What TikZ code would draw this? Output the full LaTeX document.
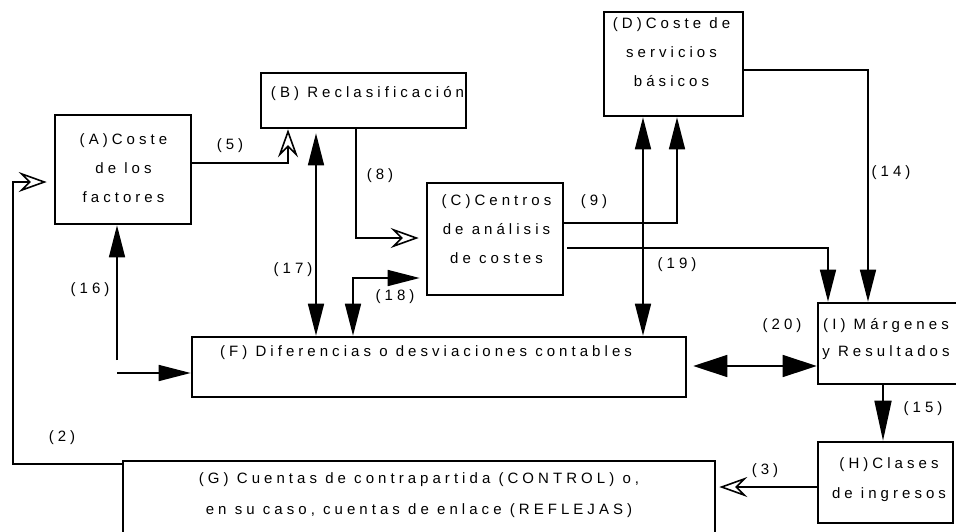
\documentclass[tikz,border=0pt]{standalone}
\usepackage{fontspec}
\setmainfont{Liberation Sans}[LetterSpace=27]
\usetikzlibrary{arrows.meta, positioning}

\begin{document}
\begin{tikzpicture}[
            x=1pt, y=-1pt,
            box/.style={draw, line width=2.6pt, inner sep=0pt},
            txt/.style={font=\fontsize{15}{29}\selectfont, align=center, inner sep=0pt},
            lbl/.style={font=\fontsize{15}{16}\selectfont, inner sep=0pt},
            flow/.style={line width=1.6pt, -{Triangle[length=32pt, width=16pt]}},
            long/.style={line width=1.6pt, -{Triangle[length=40pt, width=17pt]}},
            twoway/.style={line width=1.6pt, {Triangle[length=32pt, width=16pt]}-{Triangle[length=32pt, width=16pt]}},
            wide/.style={line width=1.6pt, {Triangle[length=34pt, width=22pt]}-{Triangle[length=34pt, width=22pt]}},
            back/.style={line width=1.6pt, -{Stealth[open, length=28pt, width=20pt, inset=10pt]}}
        ]

        \path[use as bounding box, clip] (0,0) rectangle (956,531);

        % Boxes (manual layout to match figure)
        \node[box, minimum width=136pt, minimum height=109pt] (A) at (123,169.5) {};
        \node[box, minimum width=205pt, minimum height=55pt] (B) at (363.5,100.5) {};
        \node[box, minimum width=136pt, minimum height=112pt] (C) at (495,239) {};
        \node[box, minimum width=139pt, minimum height=104pt] (D) at (673.5,64) {};
        \node[box, minimum width=494pt, minimum height=60pt] (F) at (439,367) {};
        \node[box, minimum width=592pt, minimum height=99pt] (G) at (419,510.5) {};
        \node[box, minimum width=147pt, minimum height=81pt] (I) at (891.5,343.5) {};
        \node[box, minimum width=135pt, minimum height=81pt] (H) at (885.5,482.5) {};

        % Texts
        \node[txt] (At) at (123.5,168.5) {(A)Coste\\de los\\factores};
        \node[txt] (Bt) at (367.5,94) {(B) Reclasificación};
        \node[txt] (Ct) at (496.5,229.5) {(C)Centros\\de análisis\\de costes};
        \node[txt] (Dt) at (671.5,52) {(D)Coste de\\servicios\\básicos};
        \node[txt] (Ft) at (426,353) {(F) Diferencias o desviaciones contables};
        \node[txt, font=\fontsize{15}{31}\selectfont] (Gt) at (419,495.5)
            {(G) Cuentas de contrapartida (CONTROL) o,\\en su caso, cuentas de enlace (REFLEJAS)};
        \node[txt, font=\fontsize{15}{27}\selectfont] (It) at (886,339.5) {(I) Márgenes\\y Resultados};
        \node[txt, font=\fontsize{15}{30}\selectfont] (Ht) at (889,480) {(H)Clases\\de ingresos};

        % Bends of the connectors
        \coordinate (x5) at (288,0);
        \coordinate (x8) at (356,0);
        \coordinate (x17) at (316,0);
        \coordinate (x18) at (353,0);
        \coordinate (y18) at (0,278);
        \coordinate (s16) at (117,360);
        \coordinate (t16) at (117,373);
        \coordinate (c2) at (13,182);
        \coordinate (y3) at (0,487);
        \coordinate (x15) at (883,0);
        \coordinate (y20) at (0,366);
        \coordinate (y9) at (0,223);
        \coordinate (x9) at (677,0);
        \coordinate (x19) at (643,0);
        \coordinate (y19) at (0,248);
        \coordinate (xI) at (828,0);
        \coordinate (y14) at (0,70);
        \coordinate (x14) at (868,0);

        % Connectors
        \draw[back] ([yshift=6.5pt]A.east) -| (B.south -| x5);
        \draw[back, shorten >=7pt] (B.south -| x8) |- ([yshift=1pt]C.west);
        \draw[twoway, shorten <=4pt] (B.south -| x17) -- (F.north -| x17);
        \draw[twoway, shorten >=6pt] (F.north -| x18) |- (C.west |- y18);
        \draw[flow] (s16) -- (s16 |- A.south);
        \draw[flow] (t16) -- (t16 -| F.west);
        \draw[back, shorten >=7pt] ([yshift=-4pt]G.north west) -| (c2) -- (c2 -| A.west);
        \draw[back, shorten >=3pt] (H.west |- y3) -- (G.east |- y3);
        \draw[long] (I.south -| x15) -- (H.north -| x15);
        \draw[wide, shorten <=6pt] (F.east |- y20) -- (I.west |- y20);
        \draw[flow] (C.east |- y9) -| (D.south -| x9);
        \draw[twoway] (D.south -| x19) -- (F.north -| x19);
        \draw[flow, shorten <=3pt] (C.east |- y19) -| (I.north -| xI);
        \draw[flow] (D.east |- y14) -| (I.north -| x14);

        % Labels
        \node[lbl] (l5) at (230,146) {(5)};
        \node[lbl] (l8) at (380,176) {(8)};
        \node[lbl] (l17) at (293,270) {(17)};
        \node[lbl] (l18) at (395,297) {(18)};
        \node[lbl] (l16) at (90,290) {(16)};
        \node[lbl] (l2) at (62,438) {(2)};
        \node[lbl] (l3) at (765,471) {(3)};
        \node[lbl] (l15) at (923,409) {(15)};
        \node[lbl] (l20) at (782,326) {(20)};
        \node[lbl] (l9) at (594,202) {(9)};
        \node[lbl] (l19) at (677,265) {(19)};
        \node[lbl] (l14) at (891,173) {(14)};

        \end{tikzpicture}
\end{document}
